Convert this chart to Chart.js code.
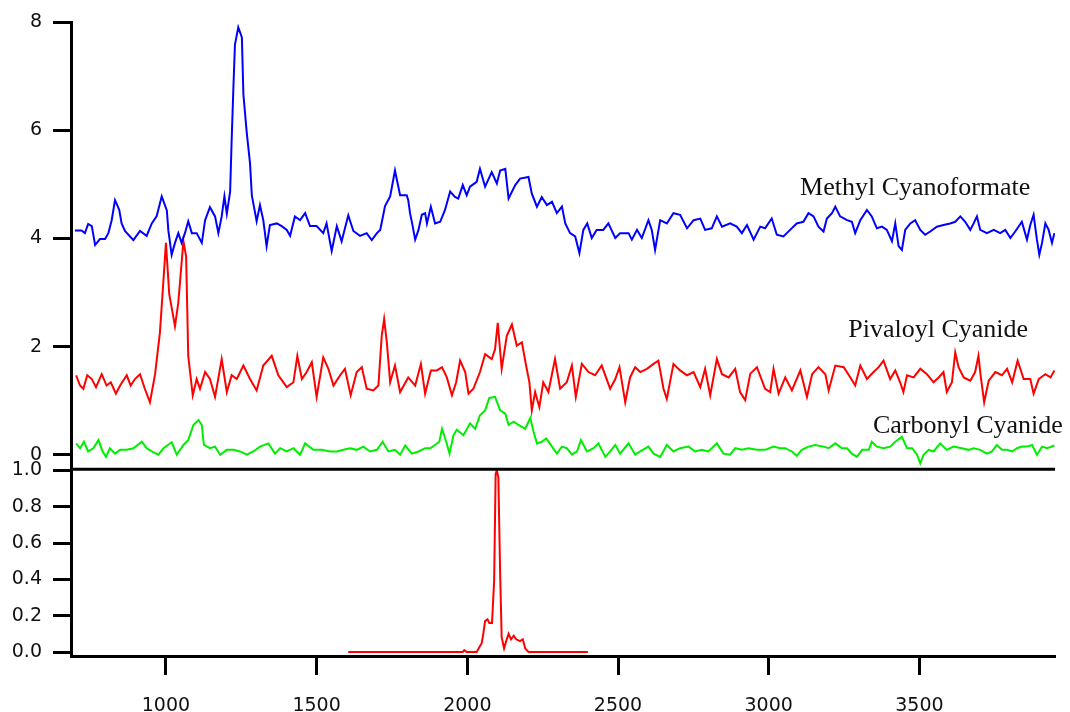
<!DOCTYPE html>
<html>
<head>
<meta charset="utf-8">
<script src="https://cdn.jsdelivr.net/npm/chart.js@4"></script>
<style>
  html, body { margin: 0; padding: 0; background: #fff; }
  canvas { display: block; }
</style>
</head>
<body>
<canvas id="spectra" width="1070" height="712"></canvas>
<script>
// wavenumber axis ticks and panel ticks
var xTicks = [1000, 1500, 2000, 2500, 3000, 3500];
var topTicks = [0, 2, 4, 6, 8];
var bottomTicks = [0, 0.2, 0.4, 0.6, 0.8, 1.0];

// Methyl Cyanoformate (offset trace, blue)
var mcfX = [698,720,731,742,754,765,781,798,809,820,831,845,853,864,892,914,936,953,969,986,1003,1008,1019,1030,1041,1052,1063,1074,1086,1102,1119,1130,1146,1163,1174,1185,1194,1202,1213,1218,1224,1229,1240,1252,1257,1268,1279,1285,1296,1301,1312,1323,1334,1345,1368,1384,1401,1412,1428,1445,1462,1478,1500,1522,1533,1550,1567,1583,1605,1622,1644,1666,1683,1700,1711,1727,1744,1760,1777,1799,1804,1810,1819,1827,1838,1849,1860,1866,1879,1893,1910,1926,1943,1959,1970,1985,1998,2009,2031,2042,2059,2081,2098,2109,2126,2137,2159,2175,2203,2214,2231,2247,2264,2281,2297,2314,2325,2341,2358,2372,2385,2398,2413,2429,2451,2468,2491,2507,2535,2546,2563,2579,2601,2612,2623,2640,2662,2684,2706,2729,2751,2773,2789,2811,2828,2845,2872,2894,2911,2928,2950,2972,2988,3010,3027,3049,3071,3093,3115,3132,3149,3165,3182,3193,3210,3221,3237,3260,3276,3287,3304,3326,3342,3359,3376,3392,3409,3420,3431,3442,3453,3470,3486,3503,3519,3536,3558,3580,3602,3619,3636,3652,3669,3680,3691,3702,3724,3747,3768,3785,3802,3818,3840,3857,3868,3879,3890,3898,3907,3918,3929,3940,3948];
var mcfY = [4.15,4.15,4.10,4.27,4.23,3.88,3.99,3.99,4.10,4.34,4.71,4.53,4.28,4.14,3.97,4.14,4.05,4.28,4.41,4.78,4.52,4.15,3.70,3.92,4.10,3.92,4.10,4.32,4.10,4.10,3.92,4.34,4.58,4.41,4.10,4.41,4.78,4.46,4.87,5.81,6.82,7.59,7.91,7.72,6.67,5.97,5.39,4.80,4.47,4.32,4.62,4.34,3.86,4.25,4.28,4.23,4.16,4.05,4.41,4.34,4.47,4.23,4.23,4.10,4.28,3.77,4.23,3.95,4.43,4.14,4.05,4.10,3.97,4.10,4.16,4.60,4.78,5.26,4.80,4.80,4.71,4.47,4.22,3.98,4.16,4.44,4.47,4.28,4.59,4.28,4.31,4.53,4.87,4.77,4.74,4.99,4.80,4.96,5.05,5.29,4.96,5.23,5.02,5.26,5.29,4.74,4.99,5.11,5.14,4.83,4.59,4.77,4.62,4.68,4.47,4.59,4.28,4.10,4.04,3.73,4.16,4.28,4.01,4.16,4.16,4.28,4.01,4.10,4.10,3.98,4.16,4.01,4.34,4.16,3.79,4.34,4.28,4.47,4.44,4.19,4.34,4.37,4.16,4.19,4.41,4.22,4.28,4.22,4.10,4.25,3.98,4.22,4.19,4.37,4.07,4.04,4.16,4.28,4.31,4.47,4.41,4.22,4.13,4.37,4.47,4.59,4.41,4.34,4.31,4.10,4.34,4.53,4.41,4.19,4.22,4.16,3.95,4.28,3.86,3.79,4.16,4.28,4.34,4.16,4.07,4.13,4.22,4.25,4.28,4.31,4.41,4.31,4.16,4.28,4.41,4.16,4.10,4.16,4.10,4.16,4.01,4.13,4.31,3.98,4.25,4.44,3.98,3.70,3.92,4.28,4.16,3.92,4.10];

// Pivaloyl Cyanide (offset trace, red)
var pivX = [702,715,726,739,754,768,787,803,817,834,848,870,883,897,914,930,947,964,980,989,1000,1011,1030,1041,1058,1067,1074,1089,1102,1113,1130,1146,1163,1185,1202,1218,1235,1257,1279,1301,1323,1351,1373,1401,1423,1436,1451,1467,1484,1500,1522,1539,1556,1578,1594,1613,1633,1650,1666,1688,1705,1716,1724,1733,1744,1760,1777,1804,1827,1846,1860,1879,1899,1916,1932,1949,1963,1976,1993,2004,2020,2042,2059,2081,2092,2101,2114,2131,2148,2164,2181,2195,2206,2214,2225,2239,2252,2269,2291,2308,2330,2347,2360,2380,2402,2424,2446,2474,2491,2505,2524,2540,2557,2574,2596,2618,2634,2651,2662,2684,2706,2729,2751,2773,2789,2806,2828,2845,2867,2889,2905,2922,2939,2961,2988,3005,3016,3033,3055,3077,3105,3127,3144,3165,3188,3199,3221,3249,3271,3287,3304,3326,3348,3365,3381,3403,3420,3436,3447,3459,3481,3503,3525,3547,3564,3580,3591,3608,3619,3630,3647,3669,3685,3696,3704,3715,3730,3752,3774,3791,3808,3826,3846,3868,3879,3896,3918,3935,3948];
var pivY = [1.47,1.28,1.22,1.47,1.40,1.25,1.49,1.28,1.34,1.13,1.28,1.47,1.28,1.40,1.49,1.22,0.97,1.49,2.26,3.00,3.92,2.97,2.38,2.81,3.95,3.67,1.83,1.10,1.40,1.22,1.53,1.40,1.07,1.77,1.16,1.47,1.40,1.65,1.40,1.19,1.65,1.83,1.47,1.25,1.34,1.83,1.40,1.53,1.71,1.07,1.80,1.59,1.28,1.47,1.59,1.10,1.53,1.62,1.22,1.19,1.28,2.20,2.51,2.08,1.34,1.65,1.16,1.43,1.28,1.68,1.13,1.56,1.56,1.62,1.43,1.10,1.34,1.74,1.53,1.13,1.22,1.53,1.86,1.77,1.95,2.44,1.59,2.20,2.41,2.02,2.08,1.65,1.34,0.82,1.16,0.88,1.34,1.16,1.77,1.22,1.34,1.65,1.07,1.68,1.53,1.47,1.65,1.22,1.40,1.62,0.97,1.43,1.62,1.53,1.59,1.68,1.74,1.22,1.03,1.68,1.56,1.47,1.53,1.25,1.59,1.10,1.77,1.49,1.43,1.59,1.16,1.01,1.50,1.62,1.22,1.16,1.59,1.13,1.43,1.19,1.56,1.07,1.49,1.62,1.49,1.19,1.65,1.62,1.43,1.28,1.65,1.40,1.53,1.62,1.74,1.40,1.56,1.34,1.16,1.47,1.43,1.59,1.49,1.34,1.43,1.53,1.16,1.34,1.89,1.62,1.43,1.37,1.53,1.83,1.43,0.97,1.37,1.53,1.47,1.59,1.34,1.74,1.40,1.40,1.13,1.40,1.49,1.43,1.56];

// Carbonyl Cyanide (green)
var ccX = [702,715,728,742,759,776,790,801,814,831,848,870,892,920,936,953,975,992,1019,1036,1058,1074,1091,1108,1119,1126,1146,1163,1180,1202,1224,1246,1268,1290,1312,1340,1362,1379,1401,1423,1445,1462,1489,1517,1545,1567,1589,1611,1633,1655,1677,1700,1719,1738,1760,1777,1794,1816,1838,1860,1877,1893,1907,1916,1930,1941,1954,1965,1987,2009,2026,2042,2059,2073,2092,2109,2126,2137,2154,2170,2192,2209,2220,2231,2247,2262,2281,2297,2314,2330,2347,2364,2377,2397,2419,2435,2458,2474,2491,2507,2535,2557,2574,2601,2618,2640,2662,2684,2706,2734,2756,2778,2800,2828,2850,2872,2889,2911,2933,2961,2988,3016,3038,3055,3077,3093,3110,3132,3154,3182,3199,3221,3243,3260,3276,3293,3310,3332,3342,3359,3381,3403,3420,3442,3459,3476,3492,3503,3514,3531,3547,3569,3591,3613,3641,3663,3680,3702,3724,3741,3757,3774,3791,3808,3824,3840,3857,3874,3890,3907,3924,3948];
var ccY = [0.21,0.12,0.24,0.06,0.12,0.27,0.06,-0.04,0.12,0.02,0.09,0.09,0.12,0.24,0.12,0.06,0.00,0.12,0.23,0.00,0.18,0.27,0.55,0.64,0.55,0.18,0.12,0.15,0.00,0.09,0.09,0.06,0.00,0.06,0.15,0.21,0.02,0.12,0.06,0.12,0.00,0.21,0.09,0.09,0.06,0.06,0.09,0.12,0.09,0.15,0.06,0.09,0.24,0.06,0.09,0.00,0.17,0.02,0.06,0.12,0.12,0.18,0.24,0.48,0.24,0.02,0.36,0.46,0.36,0.58,0.48,0.73,0.82,1.05,1.07,0.82,0.76,0.55,0.61,0.55,0.48,0.68,0.42,0.21,0.24,0.30,0.15,0.02,0.15,0.12,0.00,0.06,0.27,0.06,0.12,0.21,-0.04,0.06,0.18,0.02,0.21,0.00,0.06,0.15,0.02,-0.04,0.18,0.06,0.12,0.15,0.06,0.09,0.06,0.21,0.02,0.00,0.12,0.09,0.12,0.09,0.09,0.15,0.12,0.12,0.06,-0.02,0.09,0.15,0.18,0.15,0.12,0.21,0.12,0.12,0.02,-0.04,0.09,0.09,0.24,0.15,0.12,0.15,0.24,0.33,0.12,0.12,0.00,-0.16,0.00,0.09,0.06,0.21,0.09,0.15,0.12,0.09,0.12,0.09,0.02,0.06,0.18,0.09,0.09,0.06,0.12,0.15,0.15,0.18,0.00,0.15,0.12,0.17];

// lower panel: normalised reference band (red)
var refX = [1605,1985,1990,1998,2031,2048,2053,2059,2067,2073,2082,2089,2094,2098,2103,2109,2114,2122,2129,2137,2145,2154,2162,2175,2184,2192,2203,2400];
var refY = [0,0,0.01,0,0,0.05,0.10,0.17,0.18,0.16,0.16,0.39,0.98,1.00,0.96,0.43,0.08,0.02,0.06,0.10,0.07,0.09,0.07,0.06,0.07,0.02,0,0];

// trace names, written next to the traces (data coords)
var traceNames = ['Methyl Cyanoformate', 'Pivaloyl Cyanide', 'Carbonyl Cyanide'];
var nameX = [3104, 3264, 3346];
var nameY = [4.80, 2.17, 0.41];

function pts(xs, ys) {
  return xs.map(function (x, i) { return { x: x, y: ys[i] }; });
}

var tickFont = { family: 'DejaVu Sans', size: 19 };

var traceNamePlugin = {
  id: 'traceNames',
  afterDatasetsDraw: function (chart) {
    var ctx = chart.ctx;
    var xs = chart.scales.x, ys = chart.scales.y;
    ctx.save();
    // line between the two panels
    ctx.strokeStyle = '#000';
    ctx.lineWidth = 3;
    ctx.beginPath();
    ctx.moveTo(chart.chartArea.left, ys.bottom);
    ctx.lineTo(chart.chartArea.right, ys.bottom);
    ctx.stroke();
    ctx.fillStyle = '#111';
    ctx.font = '26px "Liberation Serif"';
    ctx.textAlign = 'left';
    ctx.textBaseline = 'alphabetic';
    for (var i = 0; i < traceNames.length; i++) {
      ctx.fillText(traceNames[i], xs.getPixelForValue(nameX[i]), ys.getPixelForValue(nameY[i]));
    }
    ctx.restore();
  }
};

function yAxis(min, max, ticks, weight, fmt) {
  return {
    type: 'linear',
    position: 'left',
    stack: 'panels',
    stackWeight: weight,
    min: min,
    max: max,
    border: { display: true, width: 3, color: '#000' },
    grid: { drawOnChartArea: false, drawTicks: true, tickLength: 18, tickWidth: 3, tickColor: '#000' },
    ticks: { font: tickFont, color: '#111', padding: 11, autoSkip: false, callback: fmt },
    afterBuildTicks: function (s) { s.ticks = ticks.map(function (v) { return { value: v }; }); },
    afterFit: function (s) { s.width = 71; }
  };
}

window.onload = function () {
  var ctx = document.getElementById('spectra').getContext('2d');
  window.spectraChart = new Chart(ctx, {
    type: 'line',
    data: {
      datasets: [
        { data: pts(mcfX, mcfY), yAxisID: 'y', borderColor: '#0000ff', borderWidth: 2 },
        { data: pts(pivX, pivY), yAxisID: 'y', borderColor: '#ff0000', borderWidth: 2 },
        { data: pts(ccX, ccY), yAxisID: 'y', borderColor: '#00ee00', borderWidth: 2 },
        { data: pts(refX, refY), yAxisID: 'y2', borderColor: '#ff0000', borderWidth: 2 }
      ]
    },
    options: {
      responsive: false,
      animation: false,
      events: [],
      elements: { point: { radius: 0 }, line: { tension: 0 } },
      layout: { padding: { top: 18, right: 15, left: 0, bottom: 0 } },
      plugins: { legend: { display: false }, tooltip: { enabled: false } },
      scales: {
        x: {
          type: 'linear',
          min: 685,
          max: 3950,
          border: { display: true, width: 3, color: '#000' },
          grid: { drawOnChartArea: false, drawTicks: true, tickLength: 19, tickWidth: 3, tickColor: '#000' },
          ticks: { font: tickFont, color: '#111', padding: 20, maxRotation: 0, autoSkip: false, callback: function (v) { return String(v); } },
          afterBuildTicks: function (s) { s.ticks = xTicks.map(function (v) { return { value: v }; }); },
          afterFit: function (s) { s.height = 56; }
        },
        // listed bottom panel first: stacked left axes are placed in reverse order
        y2: yAxis(-0.022, 1.006, bottomTicks, 188, function (v) { return v.toFixed(1); }),
        y: yAxis(-0.27, 8, topTicks, 450, function (v) { return String(v); })
      }
    },
    plugins: [traceNamePlugin]
  });
};
</script>
</body>
</html>
